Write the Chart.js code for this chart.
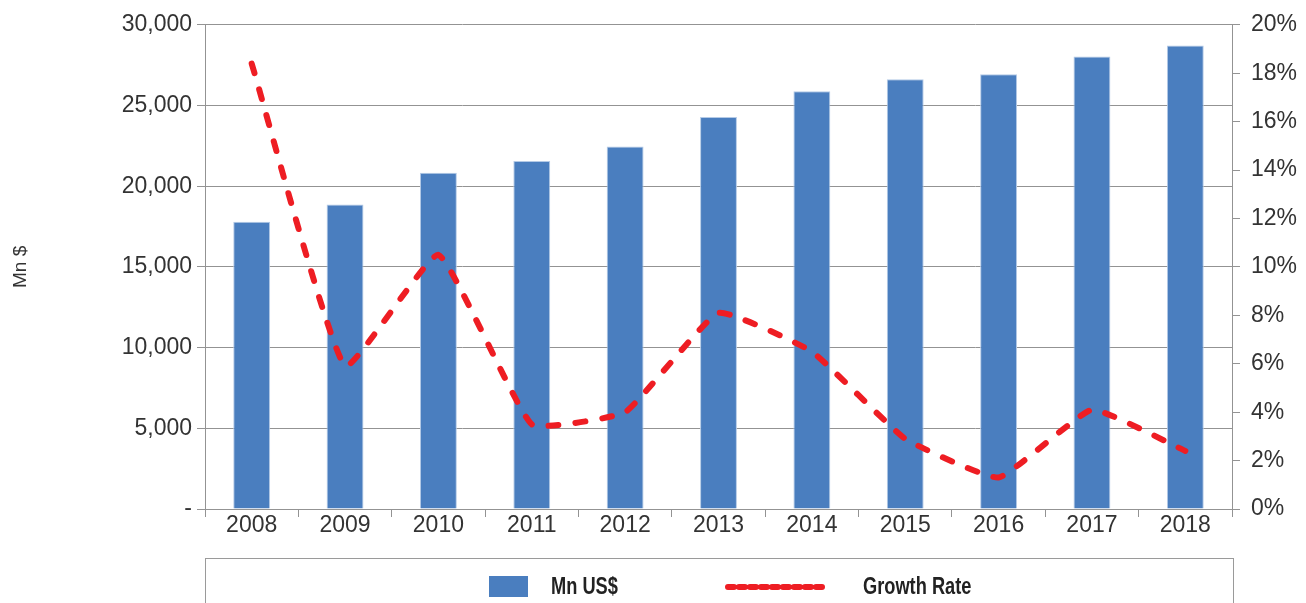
<!DOCTYPE html>
<html>
<head>
<meta charset="utf-8">
<script src="https://cdn.jsdelivr.net/npm/chart.js@4.4.1/dist/chart.umd.min.js"></script>
<style>
  body { margin: 0; background: #fff; }
  #wrap { position: relative; width: 1306px; height: 603px; overflow: hidden; }
  #legend {
    position: absolute; left: 205px; top: 558px; width: 1027px; height: 60px;
    border: 1.5px solid #9a9a9a; border-bottom: none;
  }
  .lg-txt {
    position: absolute; top: 15px; transform: scaleX(0.76); transform-origin: left center;
    font-family: "Liberation Sans", Arial, sans-serif;
    font-weight: bold; font-size: 24px; line-height: 24px; color: #222; white-space: nowrap;
  }
</style>
</head>
<body>
<div id="wrap">
  <canvas id="chart" width="1306" height="603"></canvas>
  <div id="legend">
    <div style="position:absolute;left:283px;top:17px;width:39px;height:21px;background:#4a7ebf;"></div>
    <span class="lg-txt" style="left:345px;">Mn US$</span>
    <svg style="position:absolute;left:518px;top:22px;" width="106" height="12">
      <line x1="4" y1="6" x2="102" y2="6" stroke="#ee1d23" stroke-width="6"
            stroke-linecap="round" stroke-dasharray="6 5"></line>
    </svg>
    <span class="lg-txt" style="left:657px;">Growth Rate</span>
  </div>
</div>
<script>
const years = ["2008", "2009", "2010", "2011", "2012", "2013", "2014", "2015", "2016", "2017", "2018"];
const mn_usd = [17790, 18860, 20840, 21560, 22460, 24280, 25880, 26620, 26930, 28030, 28710];
const growth_rate = [18.4, 5.9, 10.5, 3.5, 4.0, 8.1, 6.5, 2.9, 1.3, 4.1, 2.4];
const left_ticks = [0, 5000, 10000, 15000, 20000, 25000, 30000];

const gridColor = "#939393";
const tickFont = { family: "'Liberation Sans', Arial, sans-serif", size: 23 };

const chart = new Chart(document.getElementById("chart"), {
  type: "bar",
  data: {
    labels: years,
    datasets: [
      {
        type: "line",
        label: "Growth Rate",
        data: growth_rate,
        yAxisID: "y1",
        borderColor: "#ee1d23",
        borderWidth: 6,
        borderDash: [10, 17],
        borderCapStyle: "round",
        pointRadius: 0,
        tension: 0.12,
        fill: false,
        order: 0,
      },
      {
        label: "Mn US$",
        data: mn_usd,
        yAxisID: "y",
        backgroundColor: "#4a7ebf",
        borderColor: "#b4cae6",
        borderWidth: 1,
        barPercentage: 0.79,
        categoryPercentage: 0.5,
        order: 1,
      },
    ],
  },
  options: {
    responsive: false,
    animation: false,
    layout: { padding: { top: 19, bottom: 53, left: 0, right: 0 } },
    plugins: { legend: { display: false }, tooltip: { enabled: false } },
    scales: {
      x: {
        offset: true,
        grid: { offset: true, drawOnChartArea: false, drawTicks: true, tickLength: 8, color: gridColor },
        border: { display: true, color: gridColor },
        ticks: { font: tickFont, color: "#333", padding: -5, maxRotation: 0 },
        afterFit: (s) => { s.height = 41; },
      },
      y: {
        position: "left",
        min: 0,
        max: 30000,
        afterBuildTicks: (s) => { s.ticks = left_ticks.map((v) => ({ value: v })); },
        grid: { color: gridColor, tickLength: 8 },
        border: { display: true, color: gridColor },
        ticks: {
          font: tickFont,
          color: "#333",
          padding: 5,
          callback: (v) => (v === 0 ? "-" : v.toLocaleString("en-US")),
        },
        title: {
          display: true,
          text: "Mn $",
          font: { family: "'Liberation Sans', Arial, sans-serif", size: 19 },
          color: "#333",
          padding: { top: 9, bottom: 0 },
        },
        afterFit: (s) => { s.width = 205; },
      },
      y1: {
        position: "right",
        min: 0,
        max: 20,
        ticks: {
          stepSize: 2,
          font: tickFont,
          color: "#333",
          padding: 11,
          callback: (v) => v + "%",
        },
        grid: { drawOnChartArea: false, tickLength: 8, color: gridColor },
        border: { display: true, color: gridColor },
        afterFit: (s) => { s.width = 74; },
      },
    },
  },
});
</script>
</body>
</html>
